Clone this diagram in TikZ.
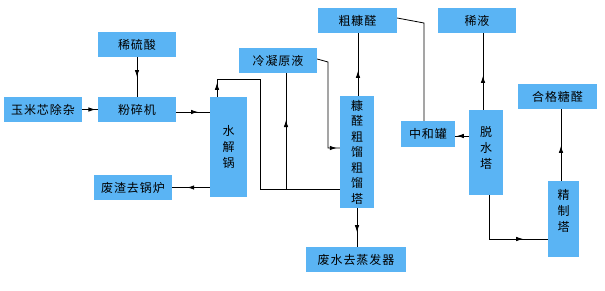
\documentclass[tikz,border=0pt]{standalone}
\usepackage{fontspec}
\newfontfamily\cjk[LetterSpace=8]{Noto Sans CJK SC}
\usetikzlibrary{arrows.meta,decorations.markings}
\definecolor{boxblue}{RGB}{90,180,244}
\tikzset{
  box/.style={fill=boxblue, draw=none, inner sep=0pt, text=black,
    font=\cjk\fontsize{12}{16}\selectfont, align=center},
  vlab/.style={font=\cjk\fontsize{12}{16}\selectfont, align=center, text=black, inner sep=0pt},
  conn/.style={draw=black, line width=0.8pt},
  arr/.style={postaction={decorate, decoration={markings,
    mark=at position #1 with {\arrow{Latex[length=7pt,width=4.5pt]}}}}}
}
\begin{document}
\begin{tikzpicture}[x=1pt,y=-1pt]
\useasboundingbox (0,0) rectangle (605,290);
% boxes
\node[box, minimum width=78, minimum height=25] (xls) at (137,44.5) {稀硫酸};
\node[box, minimum width=78, minimum height=25] (ymx) at (43,109.5) {玉米芯除杂};
\node[box, minimum width=78, minimum height=25] (fsj) at (137,109.5) {粉碎机};
\node[box, minimum width=37, minimum height=100] (sjg) at (228.5,147) {水\\解\\锅};
\node[box, minimum width=78, minimum height=25] (fz) at (133,187.5) {废渣去锅炉};
\node[box, minimum width=78, minimum height=25] (lnyy) at (278,60.5) {冷凝原液};
\node[box, minimum width=79, minimum height=25] (ckq) at (357.5,20.5) {粗糠醛};
\node[box, minimum width=34, minimum height=112,
  font=\cjk\fontsize{12}{15.5}\selectfont] (col) at (357,152) {糠\\醛\\粗\\馏\\粗\\馏\\塔};
\node[box, minimum width=100, minimum height=25] (fs) at (356,259.5) {废水去蒸发器};
\node[box, minimum width=78, minimum height=25] (xy) at (477,20.5) {稀液};
\node[box, minimum width=54, minimum height=26] (zhg) at (428,134) {中和罐};
\node[box, minimum width=34, minimum height=85,
  label={[vlab, yshift=5pt]center:{脱\\水\\塔}}] (tst) at (486,152.5) {};
\node[box, minimum width=79, minimum height=25] (hg) at (557.5,96.5) {合格糖醛};
\node[box, minimum width=31, minimum height=76,
  label={[vlab, yshift=8pt]center:{精\\制\\塔}}] (jzt) at (563.5,219) {};
% junction coordinates
\coordinate (j1) at (286,189);
% connectors
\draw[conn, arr=0.5] (xls.south) -- (fsj.north);
\draw[conn, arr=0.85] (ymx.east) -- (fsj.west);
\draw[conn, arr=0.65] ([yshift=-2.5]fsj.east) -- ([yshift=-2.5]fsj.east -| sjg.west);
\draw[conn, arr=0.6] (sjg.west |- fz.east) -- (fz.east);
\draw[conn, arr=14pt] (sjg.north -| 217,0) -- (217,79) -- (260,79) -- (260,189) -- (col.west |- j1);
\draw[conn, arr=69pt] (j1) -- (j1 |- lnyy.south);
\draw[conn, arr=106pt] ([yshift=1.5]lnyy.east) -- (328,62) -- (328,148) -- (col.west |- 0,148);
\draw[conn, arr=25pt] ([xshift=1]col.north) -- ([xshift=1]col.north |- ckq.south);
\draw[conn] ([yshift=2.5]ckq.east) -- (424,23) -- (zhg.north -| 424,0);
\draw[conn, arr=12pt] (tst.west |- 0,136) -- (zhg.east |- 0,136);
\draw[conn, arr=34pt] (tst.north -| 483,0) -- (xy.south -| 483,0);
\draw[conn, arr=78pt] (tst.south -| 489,0) -- (489,239) -- (jzt.west |- 0,239);
\draw[conn, arr=35pt] (jzt.north -| 561,0) -- (hg.south -| 561,0);
\draw[conn, arr=24pt] (col.south) -- (fs.north -| col.south);
\end{tikzpicture}
\end{document}
